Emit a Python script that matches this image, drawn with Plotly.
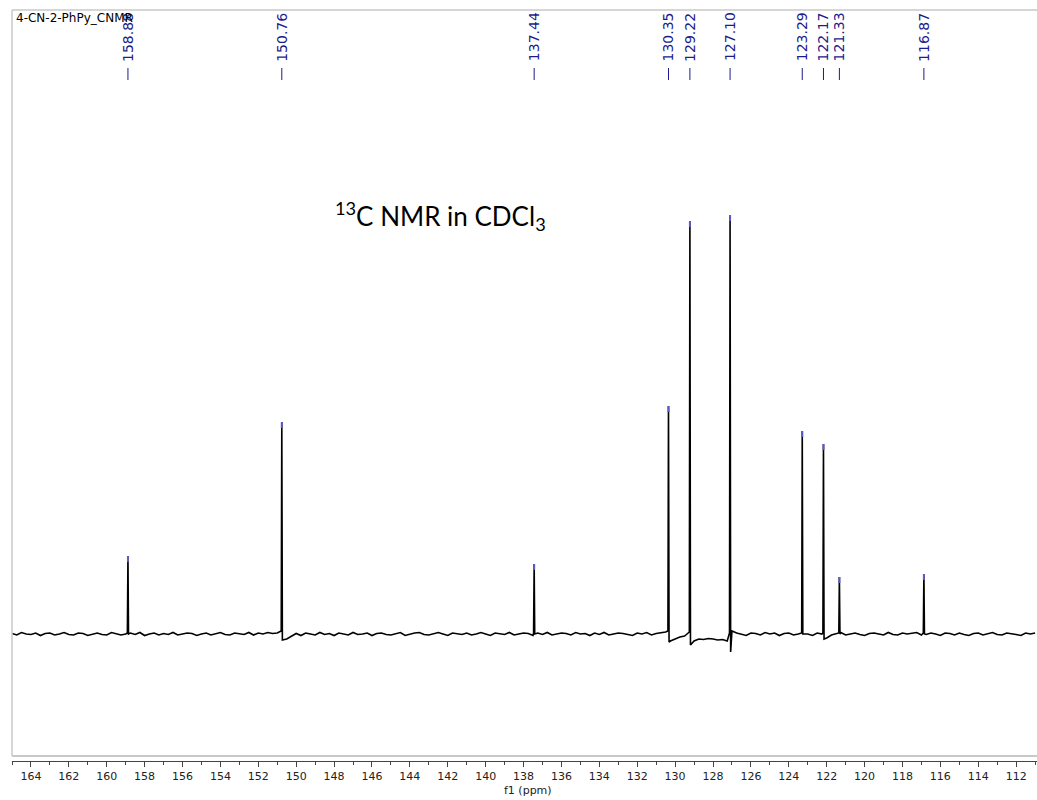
import numpy as np
import plotly.graph_objects as go

# ---------------- data ----------------
peak_ppm = [158.88, 150.76, 137.44, 130.35, 129.22, 127.10, 123.29, 122.17, 121.33, 116.87]
peak_height = [78, 212, 70, 228, 413, 419, 203, 190, 57, 60]
peak_pre = [1, 3, 1, 3, 2, 1, 1, 1, 1, 1]
peak_post = [0, -6, 0, -8, -11, -18, 0, -5, 0, 0]
peak_labels = ["158.88", "150.76", "137.44", "130.35", "129.22", "127.10",
               "123.29", "122.17", "121.33", "116.87"]

# baseline samples every 0.25 ppm from 165.0 down to 111.0
baseline_start = 165.0
baseline_step = 0.25
baseline = [
    0.5, -1, 1.5, 0, -0.5, 1, -1.5, 0.5, 1, -1, 0, 1.5, -0.5, -1, 1, 0.5, -1.5, 0, 1, -0.5,
    -1, 1.5, 0.5, -1, 0, 1, -0.5, 1.5, -1.5, 0, 1, -1, 0.5, -0.5, 1.5, -1, 0, 1, 0.5, -1.5,
    0, 1, -1, 0.5, 1.5, -0.5, -1, 1, 0, -0.5, 1.5, -1, 1, 0, 1.5, 0.5, 1, 1.5, -5, -2,
    0.5, -1.5, 1, 0, -1, 1.5, -0.5, 0.5, -1.5, 1, 0, -1, 1.5, -0.5, 0, 1, -1.5, 0.5, 1, -0.5,
    -1, 0.5, 1.5, -1.5, 0, 1, 1.5, -0.5, -1, 0, 1.5, 0, -1.5, 1, 0.5, -0.5, 1, -1, 0, 1.5,
    0, -1.5, 1, 0.5, -0.5, 1.5, -1, 0, 1, 0.5, -1.5, 1, -0.5, 1.5, -1, 0, 1, 0.5, -1, 1.5,
    0, 0.5, -1.5, 1, -0.5, 1.5, -1, 0, 1, 0.5, -0.5, -1.5, 1, 0, 1.5, -1, 0.5, 1, 2, -7,
    -5, -3, -2, -1, -7, -5, -5.5, -4.5, -5, -6, -5.5, -7, 3, 1, -0.5, -1.5, 1, 0.5, -1, 1.5,
    0, 1, -1.5, 0.5, 1, -1, 0, 0.5, 0, -1.5, 1, 0, -4, -1, 0.5, 1.5, -1, 0, 1, -0.5,
    -1.5, 0.5, 1, 0, -1, 1.5, -0.5, -1, 1, 0, 0.5, 1.5, -1, -0.5, 1, 0, -1.5, 1, 0.5, -1,
    1, -0.5, -1.5, 0.5, 1, -1, 0, 1.5, -0.5, -1, 1, 0.5, -0.5, -1.5, 1, 0, 1,
]
x_ticks = list(range(164, 111, -2))

# ---------------- build spectrum ----------------
pts = []
bppm = baseline_start - baseline_step * np.arange(len(baseline))
for p, v in zip(bppm, baseline):
    if min(abs(p - q) for q in peak_ppm) > 0.06:
        pts.append((float(p), float(v)))
hw = 0.03
for p, h, a, b in zip(peak_ppm, peak_height, peak_pre, peak_post):
    pts.append((p + hw, a))
    pts.append((p, h))
    pts.append((p - hw, b))
pts.sort(key=lambda t: -t[0])
sx = [t[0] for t in pts]
sy = [t[1] for t in pts]

# blue peak-pick tips
tx, ty = [], []
for p, h in zip(peak_ppm, peak_height):
    tx += [p, p, None]
    ty += [h, h - 6, None]

fig = go.Figure()
fig.add_trace(go.Scatter(x=sx, y=sy, mode="lines",
                         line=dict(color="black", width=1.6),
                         hoverinfo="skip", showlegend=False))
fig.add_trace(go.Scatter(x=tx, y=ty, mode="lines",
                         line=dict(color="#5a5ac8", width=2),
                         hoverinfo="skip", showlegend=False))

W, H = 1037, 800
L, R, T, B = 12, 0, 10, 39
pw, ph = W - L - R, H - T - B


def ypap(py):
    return (H - B - py) / ph


def xpap(px):
    return (px - L) / pw


shapes = []
# gray frame
frame_col = "#c8c8c8"
shapes.append(dict(type="line", xref="paper", yref="paper", x0=0, x1=1,
                   y0=ypap(10), y1=ypap(10), line=dict(color=frame_col, width=1.5)))
shapes.append(dict(type="line", xref="paper", yref="paper", x0=0, x1=0,
                   y0=ypap(10), y1=ypap(756), line=dict(color=frame_col, width=1.5)))
shapes.append(dict(type="line", xref="paper", yref="paper", x0=0, x1=1,
                   y0=ypap(756), y1=ypap(756), line=dict(color=frame_col, width=2)))

label_col = "#1c1c8c"
annotations = []
for p, lab in zip(peak_ppm, peak_labels):
    annotations.append(dict(x=p, xref="x", y=ypap(37), yref="paper", text=lab,
                            textangle=-90, showarrow=False, xanchor="center",
                            yanchor="middle",
                            font=dict(family="DejaVu Sans", size=14, color=label_col)))
    shapes.append(dict(type="line", xref="x", yref="paper", x0=p, x1=p,
                       y0=ypap(68), y1=ypap(80), line=dict(color=label_col, width=1)))

annotations.append(dict(x=xpap(14), xref="paper", y=ypap(18), yref="paper",
                        text="4-CN-2-PhPy_CNMR", showarrow=False, xanchor="left",
                        yanchor="middle",
                        font=dict(family="DejaVu Sans", size=12, color="black")))
annotations.append(dict(x=xpap(333), xref="paper", y=ypap(216), yref="paper",
                        text="<sup>13</sup>C NMR in CDCl<sub>3</sub>", showarrow=False,
                        xanchor="left", yanchor="middle",
                        font=dict(family="Lato", size=26, color="black")))
annotations.append(dict(x=xpap(528), xref="paper", y=ypap(790), yref="paper",
                        text="f1 (ppm)", showarrow=False, xanchor="center",
                        yanchor="middle",
                        font=dict(family="DejaVu Sans", size=11, color="#222")))

fig.update_layout(
    width=W, height=H,
    margin=dict(l=L, r=R, t=T, b=B, pad=0),
    paper_bgcolor="white", plot_bgcolor="white",
    shapes=shapes, annotations=annotations,
    xaxis=dict(range=[165, 110.9], showgrid=False, zeroline=False,
               showline=True, linecolor="#444", linewidth=1,
               ticks="outside", ticklen=5, tickcolor="#444", tickwidth=1,
               tickvals=x_ticks, ticktext=[str(t) for t in x_ticks],
               tickfont=dict(family="DejaVu Sans", size=11, color="#222"),
               minor=dict(dtick=1, tick0=0, ticks="outside", ticklen=3,
                          tickcolor="#444")),
    yaxis=dict(range=[-127, 624], visible=False, showgrid=False, zeroline=False),
)

fig.write_html("out.html")
